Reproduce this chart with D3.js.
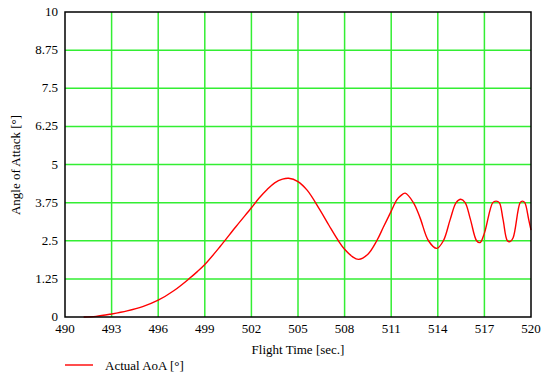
<!DOCTYPE html>
<html><head><meta charset="utf-8">
<script src="https://cdn.jsdelivr.net/npm/d3@7"></script>
<style>
body{margin:0;background:#fff;}
</style></head>
<body><svg id="c" width="542" height="376"></svg>
<script>
// Flight time samples [sec] and measured angle of attack [deg]
const flightTime = [491.2,492,493,494,495,496,497,498,498.5,499,500,501,502,502.5,503,503.5,504,504.4,505,505.6,506.4,507,507.6,508,508.5,508.9,509.5,510.07,510.5,511,511.36,511.6,511.9,512.43,512.86,513.4,513.93,514.36,514.8,515.18,515.48,515.76,516.1,516.5,516.72,517.0,517.54,517.75,517.96,518.2,518.48,518.65,518.85,519.3,519.45,519.6,519.85,520];
const actualAoA  = [0,0.02,0.1,0.2,0.34,0.55,0.86,1.26,1.48,1.72,2.32,2.96,3.58,3.9,4.17,4.4,4.52,4.55,4.44,4.15,3.52,3.0,2.5,2.22,1.98,1.89,2.06,2.5,2.95,3.47,3.84,3.97,4.06,3.75,3.25,2.5,2.25,2.5,3.2,3.75,3.86,3.75,3.2,2.5,2.44,2.75,3.75,3.8,3.75,3.2,2.5,2.47,2.6,3.75,3.8,3.75,3.2,2.85];
const xTicks = [490,493,496,499,502,505,508,511,514,517,520];
const yTicks = [0,1.25,2.5,3.75,5,6.25,7.5,8.75,10];

const FONT = "'Liberation Serif','DejaVu Serif','Times New Roman',serif";
const svg = d3.select("#c").attr("font-family",FONT).attr("font-size",13);
const L = 65, R = 531, T = 12, B = 317;
const x = d3.scaleLinear().domain([490,520]).range([L,R]);
const y = d3.scaleLinear().domain([0,10]).range([B,T]);

// grid
svg.append("g").selectAll("line").data(xTicks.slice(1,-1)).join("line")
  .attr("x1",d=>x(d)).attr("x2",d=>x(d)).attr("y1",T).attr("y2",B)
  .attr("stroke","#33ee33").attr("stroke-width",1.5);
svg.append("g").selectAll("line").data(yTicks.slice(1,-1)).join("line")
  .attr("y1",d=>y(d)).attr("y2",d=>y(d)).attr("x1",L).attr("x2",R)
  .attr("stroke","#33ee33").attr("stroke-width",1.5);

// curve
const pts = flightTime.map((t,i)=>[t,actualAoA[i]]);
svg.append("path").datum(pts)
  .attr("fill","none").attr("stroke","#ff0000").attr("stroke-width",1.4)
  .attr("d",d3.line().x(d=>x(d[0])).y(d=>y(d[1])).curve(d3.curveCatmullRom.alpha(0.5)));

// frame
svg.append("rect").attr("x",L).attr("y",T).attr("width",R-L).attr("height",B-T)
  .attr("fill","none").attr("stroke","#000").attr("stroke-width",1.5);

// tick labels
svg.append("g").selectAll("text").data(xTicks).join("text")
  .attr("x",d=>x(d)).attr("y",B+16).attr("text-anchor","middle").text(d=>d);
svg.append("g").selectAll("text").data(yTicks).join("text")
  .attr("x",L-7).attr("y",d=>y(d)+4).attr("text-anchor","end").text(d=>d);

svg.append("text").attr("x",298).attr("y",354).attr("text-anchor","middle").text("Flight Time [sec.]");
svg.append("text").attr("transform","translate(20,165) rotate(-90)")
  .attr("text-anchor","middle").text("Angle of Attack [°]");

// legend
svg.append("line").attr("x1",65).attr("x2",93).attr("y1",365).attr("y2",365)
  .attr("stroke","#ff0000").attr("stroke-width",1.4);
svg.append("text").attr("x",105).attr("y",370).text("Actual AoA [°]");
</script></body></html>
